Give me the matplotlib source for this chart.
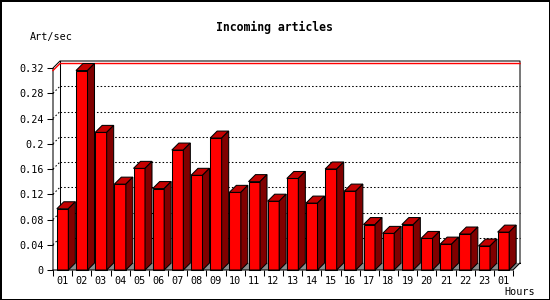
import numpy as np
import matplotlib
matplotlib.use("Agg")
import matplotlib.pyplot as plt
from matplotlib.patches import Polygon

# ─── data ─────────────────────────────────────────────────────
hours = ["01", "02", "03", "04", "05", "06", "07", "08", "09", "10", "11", "12",
         "13", "14", "15", "16", "17", "18", "19", "20", "21", "22", "23", "01"]
art_per_sec = [0.097, 0.316, 0.218, 0.136, 0.161, 0.129, 0.190, 0.150,
               0.209, 0.123, 0.140, 0.109, 0.145, 0.106, 0.160, 0.125,
               0.072, 0.058, 0.072, 0.050, 0.041, 0.057, 0.038, 0.060]
y_ticks = [0, 0.04, 0.08, 0.12, 0.16, 0.2, 0.24, 0.28, 0.32]

# ─── style ────────────────────────────────────────────────────
FONT = "DejaVu Sans Mono"
FRONT, TOP, SIDE, SHADOW = "#ff0000", "#c40000", "#800000", "#8c8c8c"
LW = 0.75
BAR_W = 0.6
N = len(hours)
YMAX = y_ticks[-1]
DX = 7 / 19.17          # depth offset in category units (~7 px)
DY = 7 / (202 / YMAX)   # depth offset in value units   (~7 px)

fig = plt.figure(figsize=(5.5, 3), dpi=100, linewidth=2, edgecolor="black")
ax = fig.add_axes([53 / 550, 30 / 300, 467 / 550, 209 / 300])
ax.set_xlim(0, N + DX)
ax.set_ylim(0, YMAX + DY)
for s in ax.spines.values():
    s.set_visible(False)

# ---- back wall grid (dotted) ----
for v in y_ticks[1:-1]:
    ax.plot([DX, N + DX], [v + DY, v + DY], color="black", lw=LW,
            ls=(0, (1.5, 2)), clip_on=False, zorder=1)
    ax.plot([0, DX], [v, v + DY], color="black", lw=LW,
            ls=(0, (1.5, 2)), clip_on=False, zorder=1)

# ---- frame ----
frame_kw = dict(color="black", lw=LW, clip_on=False, zorder=2)
ax.plot([0, 0, DX, N + DX, N + DX], [0, YMAX, YMAX + DY, YMAX + DY, DY], **frame_kw)
ax.plot([DX, DX], [DY, YMAX + DY], **frame_kw)
ax.plot([DX, N + DX], [DY, DY], **frame_kw)

# ---- max line (red) ----
vmax = max(art_per_sec)
ax.plot([0, DX, N + DX], [vmax, vmax + DY, vmax + DY], color="red",
        lw=1.0, clip_on=False, zorder=2.5)

# ---- floor shadow ----
x_first = 0.5 + BAR_W / 2
ax.add_patch(Polygon([(x_first, 0), (x_first + DX, DY), (N + DX, DY), (N, 0)],
                     closed=True, facecolor=SHADOW, edgecolor="none",
                     clip_on=False, zorder=2))

# ---- 3D bars ----
for i, v in enumerate(art_per_sec):
    x0 = i + 0.5 - BAR_W / 2
    x1 = x0 + BAR_W
    ax.bar(i + 0.5, v, width=BAR_W, color=FRONT, edgecolor="black",
           linewidth=LW, clip_on=False, zorder=3)
    ax.add_patch(Polygon([(x0, v), (x0 + DX, v + DY), (x1 + DX, v + DY), (x1, v)],
                         closed=True, facecolor=TOP, edgecolor="black",
                         linewidth=LW, clip_on=False, zorder=3))
    ax.add_patch(Polygon([(x1, 0), (x1, v), (x1 + DX, v + DY), (x1 + DX, DY)],
                         closed=True, facecolor=SIDE, edgecolor="black",
                         linewidth=LW, clip_on=False, zorder=3))

ax.plot([0, N, N + DX], [0, 0, DY], **dict(frame_kw, zorder=4))

# ---- ticks ----
ax.set_xticks(np.arange(N + 1))
ax.set_xticklabels([])
ax.set_xticks(np.arange(N) + 0.5, minor=True)
ax.set_xticklabels(hours, minor=True, fontfamily=FONT, fontsize=7.3)
ax.tick_params(axis="x", which="major", length=4, width=LW, direction="out")
ax.tick_params(axis="x", which="minor", length=0, pad=4)
ax.set_yticks(y_ticks)
ax.set_yticklabels([f"{t:g}" for t in y_ticks], fontfamily=FONT, fontsize=7.3)
ax.tick_params(axis="y", length=4, width=LW, direction="out", pad=2.5)

# ---- texts ----
fig.text(274 / 550, 1 - 27 / 300, "Incoming articles", ha="center", va="center",
         fontfamily=FONT, fontsize=8.3, fontweight="bold")
fig.text(30 / 550, 1 - 37 / 300, "Art/sec", ha="left", va="center",
         fontfamily=FONT, fontsize=7.3)
fig.text(504 / 550, 1 - 292 / 300, "Hours", ha="left", va="center",
         fontfamily=FONT, fontsize=7.3)

fig.savefig("out.png", dpi=100)
